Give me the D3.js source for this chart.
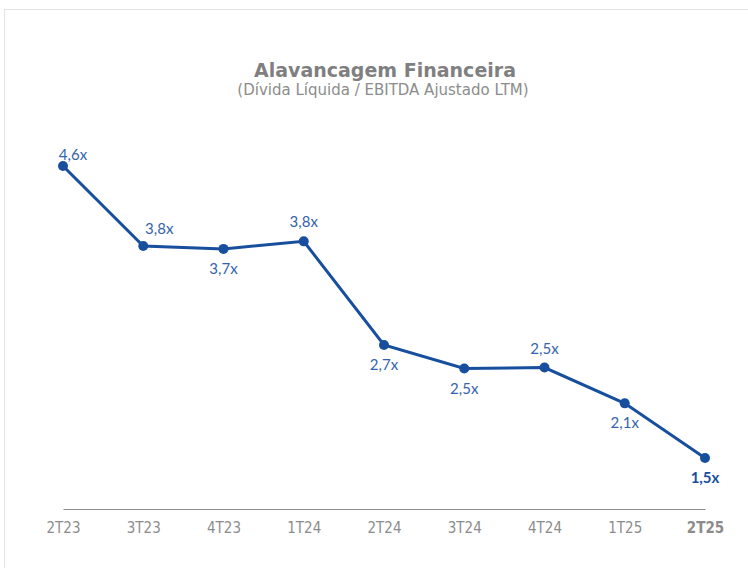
<!DOCTYPE html>
<html>
<head>
<meta charset="utf-8">
<script src="https://cdn.jsdelivr.net/npm/d3@7"></script>
<style>
  body { margin: 0; background: #fff; }
  text { font-family: Lato, "Open Sans", sans-serif; }
</style>
</head>
<body>
<div id="chart"></div>
<script>
// Data
var quarters = ["2T23", "3T23", "4T23", "1T24", "2T24", "3T24", "4T24", "1T25", "2T25"];
var leverage = [4.60, 3.75, 3.72, 3.80, 2.70, 2.45, 2.46, 2.08, 1.50];
var valueLabels = ["4,6x", "3,8x", "3,7x", "3,8x", "2,7x", "2,5x", "2,5x", "2,1x", "1,5x"];
var labelSide = ["above", "above", "below", "above", "below", "below", "above", "below", "below"];

var width = 748, height = 568;

var svg = d3.select("#chart")
    .append("svg")
    .attr("width", width)
    .attr("height", height);

// light frame round the chart area
svg.append("rect")
    .attr("x", 4.5)
    .attr("y", 9.5)
    .attr("width", width + 10)
    .attr("height", height + 10)
    .attr("fill", "none")
    .attr("stroke", "#e2e2e2");

// Title
svg.append("text")
    .attr("x", 385)
    .attr("y", 77)
    .attr("text-anchor", "middle")
    .style("font-family", "'DejaVu Sans', sans-serif")
    .style("font-size", "19px")
    .style("font-weight", "bold")
    .style("fill", "#7f7f7f")
    .text("Alavancagem Financeira");

svg.append("text")
    .attr("x", 383)
    .attr("y", 95)
    .attr("text-anchor", "middle")
    .style("font-family", "'DejaVu Sans', sans-serif")
    .style("font-size", "15px")
    .style("fill", "#8c8c8c")
    .text("(Dívida Líquida / EBITDA Ajustado LTM)");

// Scales
var x = d3.scalePoint().domain(quarters).range([63, 705]);
var y = d3.scaleLinear().domain([1.5, 4.6]).range([458, 166]);

// x axis
var xAxis = svg.append("g")
    .attr("transform", "translate(0,509)")
    .call(d3.axisBottom(x).tickSize(0).tickPadding(13));

xAxis.select(".domain")
    .attr("stroke", "#8c8c8c")
    .attr("stroke-width", 1.2);

xAxis.selectAll("text")
    .style("font-family", "'Liberation Sans Narrow', 'DejaVu Sans Condensed', sans-serif")
    .style("font-size", "15px")
    .style("fill", "#8c8c8c")
    .style("font-weight", function(d) { return d === "2T25" ? "bold" : "normal"; });

// Line
var line = d3.line()
    .x(function(d, i) { return x(quarters[i]); })
    .y(function(d) { return y(d); });

svg.append("path")
    .datum(leverage)
    .attr("d", line)
    .attr("fill", "none")
    .attr("stroke", "#174f9e")
    .attr("stroke-width", 3);

svg.selectAll("circle")
    .data(leverage)
    .enter()
    .append("circle")
    .attr("cx", function(d, i) { return x(quarters[i]); })
    .attr("cy", function(d) { return y(d); })
    .attr("r", 5)
    .attr("fill", "#174f9e");

// Value labels
svg.selectAll("text.value-label")
    .data(leverage)
    .enter()
    .append("text")
    .attr("class", "value-label")
    .attr("text-anchor", "middle")
    .attr("x", function(d, i) {
      var dx = 0;
      if (i === 0) dx = 10;
      if (i === 1) dx = 16;
      return x(quarters[i]) + dx;
    })
    .attr("y", function(d, i) {
      var cy = y(d);
      if (i === 0) return cy - 6;
      if (i === 1) return cy - 12;
      return labelSide[i] === "above" ? cy - 14 : cy + 25;
    })
    .style("font-size", "15px")
    .style("fill", function(d, i) { return i === 8 ? "#174f9e" : "#3463ad"; })
    .style("font-weight", function(d, i) { return i === 8 ? "bold" : "normal"; })
    .text(function(d, i) { return valueLabels[i]; });
</script>
</body>
</html>
